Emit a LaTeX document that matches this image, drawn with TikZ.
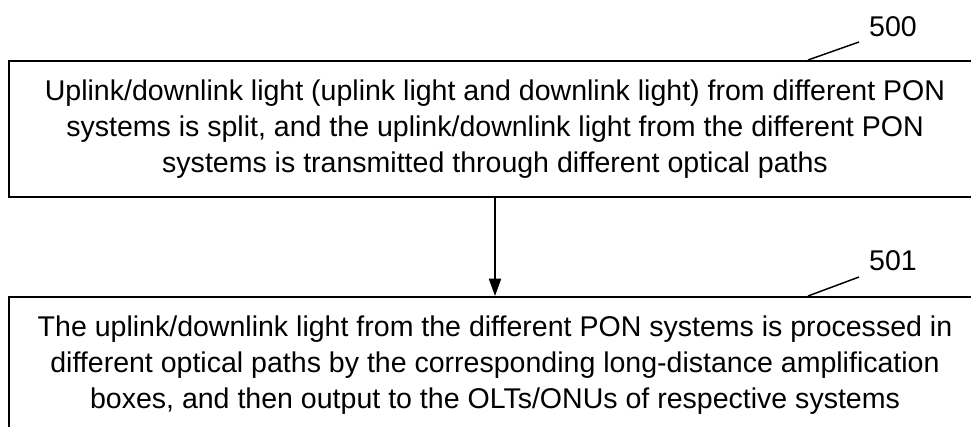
\documentclass[tikz,border=0pt]{standalone}
\usepackage{fontspec}
\setmainfont{Liberation Sans}
\usetikzlibrary{arrows.meta, positioning}

\begin{document}
\begin{tikzpicture}[
    x=0.75pt, y=-0.75pt,
    font=\fontsize{21.4}{27}\selectfont,
    box/.style={draw, line width=1.5pt, minimum width=729pt, minimum height=102pt, align=center, inner sep=0pt},
    arrow/.style={line width=1.4pt, -{Triangle[length=13pt, width=9pt]}},
    lead/.style={line width=1.1pt}
]
\useasboundingbox (0,0) rectangle (971,426);

\node[box] (box500) at (495,129) {Uplink/downlink light (uplink light and downlink light) from different PON\\
systems is split, and the uplink/downlink light from the different PON\\
systems is transmitted through different optical paths};
\node[box, below=73.5pt of box500] (box501) {The uplink/downlink light from the different PON systems is processed in\\
different optical paths by the corresponding long-distance amplification\\
boxes, and then output to the OLTs/ONUs of respective systems};

\node[inner sep=0pt] (lbl500) at (893,27) {500};
\node[inner sep=0pt] (lbl501) at (893,261) {501};

\coordinate (tip500) at (859,42);
\coordinate (tip501) at (859,277);

\draw[arrow] (box500) -- (box501);
\draw[lead] (box500.north -| 808,0) -- (tip500);
\draw[lead] (box501.north -| 808,0) -- (tip501);

\end{tikzpicture}
\end{document}
